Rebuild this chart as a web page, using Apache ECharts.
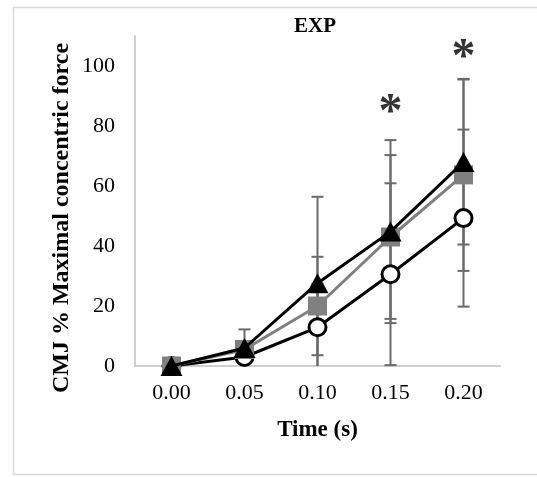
<!DOCTYPE html>
<html>
<head>
<meta charset="utf-8">
<script src="https://cdn.jsdelivr.net/npm/echarts@6/dist/echarts.min.js"></script>
<style>html,body{margin:0;padding:0;background:#fff;}#c{width:537px;height:477px;}</style>
</head>
<body>
<div id="c"></div>
<script>
var categories = ['0.00', '0.05', '0.10', '0.15', '0.20'];
var circleMean = [0, 3, 12.9, 30.6, 49.3];
var squareMean = [0, 5.5, 20, 43, 63.7];
var triangleMean = [0, 6, 27.6, 44.8, 68];
var circleSD = [0, 1.5, 14.5, 30.3, 29.5];
var squareSD = [0, 2, 16.4, 27.3, 32];
var triangleSD = [0, 6.2, 28.8, 30.5, 27.5];
var sigCategories = ['0.15', '0.20'];
var sigY = [84, 102.4];
var yTicks = [0, 20, 40, 60, 80, 100];

var FONT = '"Liberation Serif", "Times New Roman", serif';

function errData(mean, sd) {
  return mean.map(function (m, i) { return [i, m, sd[i]]; });
}
function errRender(params, api) {
  var x = api.value(0), m = api.value(1), s = api.value(2);
  if (!s) return null;
  var hi = m + s, lo = Math.max(0, m - s);
  var pHi = api.coord([x, hi]);
  var pLo = api.coord([x, lo]);
  var st = { stroke: '#6b6b6b', lineWidth: 2 };
  var ch = [
    { type: 'line', shape: { x1: pHi[0], y1: pHi[1], x2: pLo[0], y2: pLo[1] }, style: st },
    { type: 'line', shape: { x1: pHi[0] - 6, y1: pHi[1], x2: pHi[0] + 6, y2: pHi[1] }, style: st }
  ];
  if (m - s >= 0) {
    ch.push({ type: 'line', shape: { x1: pLo[0] - 6, y1: pLo[1], x2: pLo[0] + 6, y2: pLo[1] }, style: st });
  }
  return { type: 'group', children: ch };
}
function errSeries(mean, sd) {
  return { type: 'custom', z: 1, renderItem: errRender, data: errData(mean, sd), silent: true };
}

var chart = echarts.init(document.getElementById('c'), null, { renderer: 'canvas' });
chart.setOption({
  backgroundColor: '#fff',
  animation: false,
  grid: { left: 135, right: 37, top: 36, bottom: 111 },
  xAxis: {
    type: 'category',
    data: categories,
    boundaryGap: true,
    axisLine: { lineStyle: { color: '#c0c0c0', width: 1.5 } },
    axisTick: { show: false },
    axisLabel: { color: '#000', fontFamily: FONT, fontSize: 22, margin: 16 },
    name: 'Time (s)',
    nameLocation: 'middle',
    nameGap: 53,
    nameTextStyle: { color: '#000', fontFamily: FONT, fontSize: 23, fontWeight: 'bold' }
  },
  yAxis: {
    type: 'value',
    min: 0,
    max: 110,
    interval: 20,
    axisLine: { show: true, lineStyle: { color: '#c0c0c0', width: 1.5 } },
    axisTick: { show: false },
    splitLine: { show: false },
    axisLabel: {
      color: '#000', fontFamily: FONT, fontSize: 22, margin: 20, showMaxLabel: false,
      formatter: function (v) { return yTicks.indexOf(v) >= 0 ? String(v) : ''; }
    }
  },
  graphic: [
    { type: 'rect', z: -10, shape: { x: 13.5, y: 7.5, width: 540, height: 467 },
      style: { fill: 'none', stroke: '#d9d9d9', lineWidth: 1.5 } },
    { type: 'text', x: 315, y: 27, style: { text: 'EXP', fill: '#000', font: 'bold 21px ' + FONT, textAlign: 'center', textVerticalAlign: 'middle' } },
    { type: 'text', x: 62, y: 218, rotation: Math.PI / 2,
      style: { text: 'CMJ % Maximal concentric force', fill: '#000', font: 'bold 24px ' + FONT, textAlign: 'center', textVerticalAlign: 'middle' } }
  ],
  series: [
    errSeries(circleMean, circleSD),
    errSeries(squareMean, squareSD),
    errSeries(triangleMean, triangleSD),
    {
      type: 'line', data: circleMean, z: 3,
      lineStyle: { color: '#000', width: 3 },
      symbol: 'circle', symbolSize: 17, showAllSymbol: true,
      itemStyle: { color: '#fff', borderColor: '#000', borderWidth: 3 }
    },
    {
      type: 'line', data: squareMean, z: 4,
      lineStyle: { color: '#808080', width: 3 },
      symbol: 'rect', symbolSize: 19, showAllSymbol: true,
      itemStyle: { color: '#808080', borderWidth: 0 }
    },
    {
      type: 'line', data: triangleMean, z: 5,
      lineStyle: { color: '#000', width: 3 },
      symbol: 'triangle', symbolSize: [22, 20], showAllSymbol: true,
      itemStyle: { color: '#000', borderWidth: 0 }
    },
    {
      type: 'scatter', z: 6, symbolSize: 1, itemStyle: { color: 'rgba(0,0,0,0)' },
      data: sigCategories.map(function (c, i) { return [c, sigY[i]]; }),
      label: { show: true, position: 'inside', formatter: '*', color: '#000', fontFamily: FONT, fontWeight: 'bold', fontSize: 48 }
    }
  ]
});
</script>
</body>
</html>
